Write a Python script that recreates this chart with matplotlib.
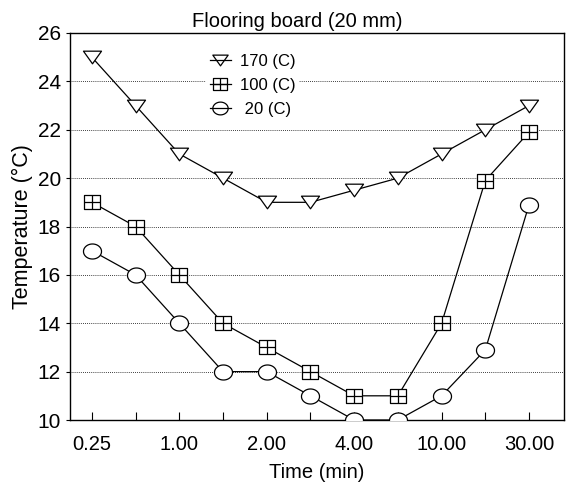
import numpy as np
import matplotlib
matplotlib.use("Agg")
import matplotlib.pyplot as plt
from matplotlib.path import Path
from matplotlib.lines import Line2D

plt.rcParams['font.family'] = ['Liberation Sans', 'DejaVu Sans']

# time steps (evenly spaced categories), labels on every other one
times = ["0.25", "0.5", "1.00", "1.5", "2.00", "3.00", "4.00", "6.00", "10.00", "20.00", "30.00"]
tick_labels = ["0.25", "1.00", "2.00", "4.00", "10.00", "30.00"]
t170 = [25, 23, 21, 20, 19, 19, 19.5, 20, 21, 22, 23]
t100 = [19, 18, 16, 14, 13, 12, 11, 11, 14, 19.9, 21.9]
t20 = [17, 16, 14, 12, 12, 11, 10, 10, 11, 12.9, 18.9]

x = np.arange(len(times))

# flat ellipse marker
th = np.linspace(0, 2 * np.pi, 40)
ell = Path(np.column_stack([1.2 * np.cos(th), np.sin(th)]))

# square with a cross inside (slightly wider than tall)
sq_verts = [(-1, -0.88), (1, -0.88), (1, 0.88), (-1, 0.88), (-1, -0.88),
            (0, -0.88), (0, 0.88), (-1, 0), (1, 0)]
sq_codes = [Path.MOVETO, Path.LINETO, Path.LINETO, Path.LINETO, Path.CLOSEPOLY,
            Path.MOVETO, Path.LINETO, Path.MOVETO, Path.LINETO]
sqx = Path(sq_verts, sq_codes)

# flattened down-triangle
tri = Path([(-1, 0.7), (1, 0.7), (0, -0.7), (-1, 0.7)],
           [Path.MOVETO, Path.LINETO, Path.LINETO, Path.CLOSEPOLY])

fig = plt.figure(figsize=(5.66, 4.83), dpi=100)
ax = fig.add_axes([70 / 566, 1 - 420 / 483, (564 - 70) / 566, (420 - 33) / 483])

kw = dict(color='black', lw=0.9, mfc='white', mec='black', mew=0.9, zorder=3)
series = [(t170, tri, 13, '170 (C)'), (t100, sqx, 12.2, '100 (C)'), (t20, ell, 13, ' 20 (C)')]
handles = []
for vals, mk, ms, lab in series:
    ax.plot(x, vals, marker=mk, ms=ms, **kw)
    handles.append(Line2D([], [], color='black', lw=0.9, marker=mk, ms=ms * 0.85,
                          mfc='none', mec='black', mew=0.9, label=lab))

ax.set_xlim(-0.5, 10.8)
ax.set_ylim(10, 26)
ax.set_yticks(np.arange(10, 27, 2))
ax.set_xticks(x[::2])
ax.set_xticklabels(tick_labels)
ax.set_xticks(x, minor=True)
ax.tick_params(axis='x', which='both', direction='in', length=6, width=0.8, labelsize=14.5, pad=11)
ax.tick_params(axis='y', direction='out', length=3, width=0.8, labelsize=15)
ax.grid(axis='y', linestyle=(0, (1, 1.5)), color='black', lw=0.6)
for s in ax.spines.values():
    s.set_linewidth(1.0)

ax.set_title('Flooring board (20 mm)', fontsize=14.5, pad=4, x=0.46)
ax.set_xlabel('Time (min)', fontsize=14.5, labelpad=6)
ax.set_ylabel('Temperature (\u00b0C)', fontsize=15.5, labelpad=3)

leg = ax.legend(handles=handles, loc='upper left', bbox_to_anchor=(0.259, 0.977), frameon=True,
                fontsize=12, handlelength=1.3, handletextpad=0.5, labelspacing=0.55, borderpad=0.2)
leg.get_frame().set_edgecolor('none')
leg.get_frame().set_facecolor('white')
leg.get_frame().set_alpha(1)

fig.savefig('out.png', dpi=100)
